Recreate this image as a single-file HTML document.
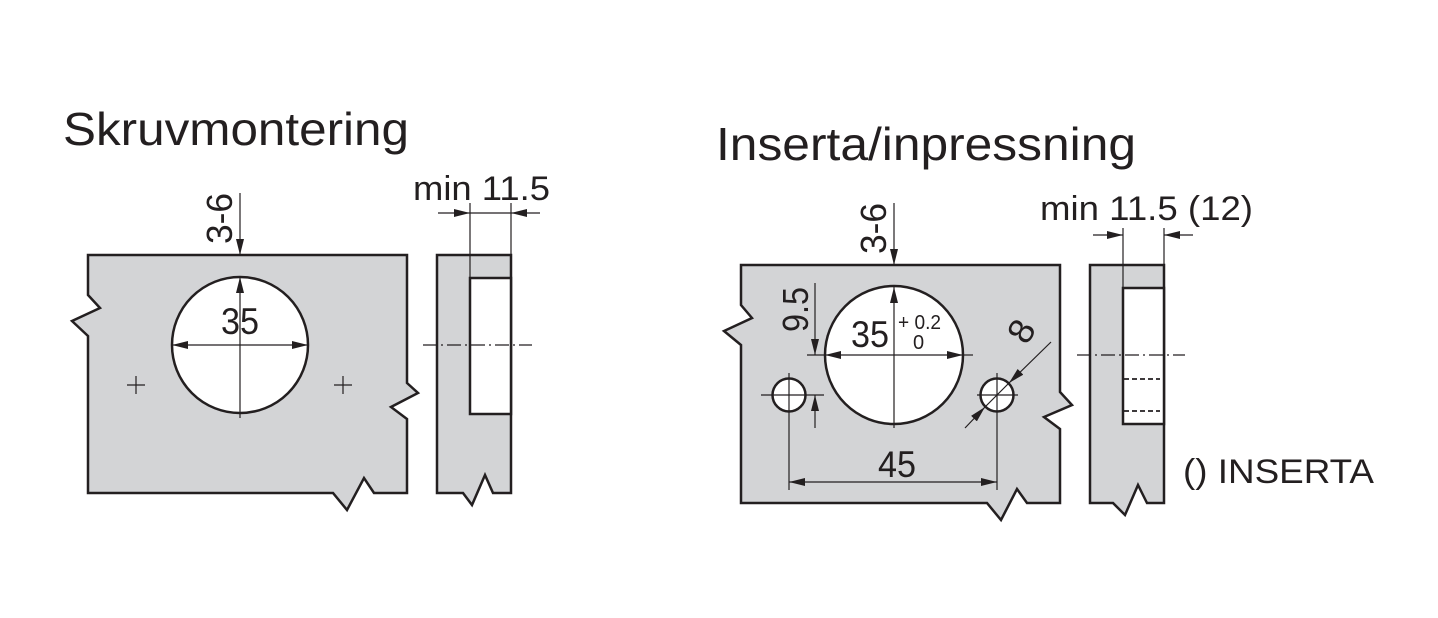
<!DOCTYPE html>
<html><head><meta charset="utf-8"><style>html,body{margin:0;padding:0;background:#fff}svg{display:block}</style></head>
<body>
<svg width="1438" height="618" viewBox="0 0 1438 618" xmlns="http://www.w3.org/2000/svg" font-family="Liberation Sans, sans-serif" fill="#231f20">
<defs>
<marker id="a" viewBox="0 0 16 8" refX="16" refY="4" markerWidth="16" markerHeight="8" markerUnits="userSpaceOnUse" orient="auto"><path d="M0,0 L16,4 L0,8 z" fill="#231f20"/></marker>
</defs>
<g stroke="#231f20" stroke-width="2.5" fill="#d3d4d6" stroke-linejoin="miter">
<path d="M88,255 L407,255 L407,383 L418,393 L391,407 L407,419 L407,493 L374,493 L364,478 L347,510 L333,493 L88,493 L88,336 L72,321 L100,308 L88,295 Z"/>
<path d="M437,255 L511,255 L511,493 L493,493 L485,475 L472,505 L463,493 L437,493 Z"/>
<path d="M741,265 L1060,265 L1060,392 L1072,405 L1044,417 L1060,429 L1060,503 L1027,503 L1017,489 L1001,520 L987,503 L741,503 L741,345 L724,331 L752,318 L741,305 Z"/>
<path d="M1090,265 L1164,265 L1164,503 L1147,503 L1138,485 L1125,515 L1113,503 L1090,503 Z"/>
</g>
<g stroke="#231f20" stroke-width="2.5" fill="#fff">
<circle cx="240" cy="345" r="68"/>
<rect x="470" y="278" width="41" height="136"/>
<circle cx="894" cy="355" r="69"/>
<circle cx="789" cy="395" r="16.5"/>
<circle cx="997" cy="395" r="16.5"/>
<rect x="1123" y="288" width="41" height="136"/>
</g>
<g stroke="#231f20" stroke-width="1.2" fill="none">
<line x1="240" y1="193" x2="240" y2="255" marker-end="url(#a)"/>
<line x1="240" y1="418" x2="240" y2="277" marker-end="url(#a)"/>
<line x1="240" y1="345" x2="172" y2="345" marker-end="url(#a)"/>
<line x1="240" y1="345" x2="308" y2="345" marker-end="url(#a)"/>
<path d="M127,385 h18 M136,376 v18 M334,385 h18 M343,376 v18"/>
<line x1="423" y1="345" x2="532" y2="345" stroke-dasharray="14,4,2,4"/>
<line x1="470" y1="203" x2="470" y2="278"/>
<line x1="511" y1="203" x2="511" y2="255"/>
<line x1="438" y1="213" x2="470" y2="213" marker-end="url(#a)"/>
<line x1="540" y1="213" x2="511" y2="213" marker-end="url(#a)"/>
<line x1="470" y1="213" x2="511" y2="213"/>
<line x1="894" y1="203" x2="894" y2="265" marker-end="url(#a)"/>
<line x1="894" y1="428" x2="894" y2="287" marker-end="url(#a)"/>
<line x1="894" y1="355" x2="825" y2="355" marker-end="url(#a)"/>
<line x1="894" y1="355" x2="963" y2="355" marker-end="url(#a)"/>
<line x1="807" y1="355" x2="825" y2="355"/>
<line x1="963" y1="355" x2="973" y2="355"/>
<line x1="815" y1="283" x2="815" y2="355" marker-end="url(#a)"/>
<line x1="815" y1="428" x2="815" y2="395" marker-end="url(#a)"/>
<line x1="761" y1="395" x2="824" y2="395"/>
<line x1="789" y1="373" x2="789" y2="490"/>
<line x1="977" y1="395" x2="1018" y2="395"/>
<line x1="997" y1="373" x2="997" y2="490"/>
<line x1="897" y1="482" x2="789" y2="482" marker-end="url(#a)"/>
<line x1="897" y1="482" x2="997" y2="482" marker-end="url(#a)"/>
<line x1="1051" y1="342" x2="1009" y2="383" marker-end="url(#a)"/>
<line x1="965" y1="428" x2="985" y2="407" marker-end="url(#a)"/>
<line x1="985" y1="407" x2="1009" y2="383"/>
<line x1="1077" y1="355" x2="1185" y2="355" stroke-dasharray="14,4,2,4"/>
<path d="M1124,379 h36 M1124,411 h36" stroke-dasharray="5,3" stroke-width="1.8"/>
<line x1="1123" y1="228" x2="1123" y2="288"/>
<line x1="1164" y1="228" x2="1164" y2="265"/>
<line x1="1093" y1="235" x2="1123" y2="235" marker-end="url(#a)"/>
<line x1="1193" y1="235" x2="1164" y2="235" marker-end="url(#a)"/>
</g>
<g font-size="34">
<text x="63" y="145" font-size="46" textLength="346" lengthAdjust="spacingAndGlyphs">Skruvmontering</text>
<text x="716" y="160" font-size="46" textLength="420" lengthAdjust="spacingAndGlyphs">Inserta/inpressning</text>
<text x="413" y="200" textLength="137" lengthAdjust="spacingAndGlyphs">min 11.5</text>
<text x="221" y="334" font-size="37" textLength="38" lengthAdjust="spacingAndGlyphs">35</text>
<text transform="translate(232,244) rotate(-90)" font-size="36" textLength="51" lengthAdjust="spacingAndGlyphs">3-6</text>
<text transform="translate(886,254) rotate(-90)" font-size="36" textLength="51" lengthAdjust="spacingAndGlyphs">3-6</text>
<text transform="translate(808,332) rotate(-90)" font-size="36" textLength="45" lengthAdjust="spacingAndGlyphs">9.5</text>
<text x="851" y="347" font-size="37" textLength="38" lengthAdjust="spacingAndGlyphs">35</text>
<text x="898" y="329" font-size="20" textLength="43" lengthAdjust="spacingAndGlyphs">+ 0.2</text>
<text x="913" y="349" font-size="20">0</text>
<text transform="translate(1027,346) rotate(-60)" font-size="36">8</text>
<text x="878" y="477" font-size="37" textLength="38" lengthAdjust="spacingAndGlyphs">45</text>
<text x="1040" y="220" textLength="213" lengthAdjust="spacingAndGlyphs">min 11.5 (12)</text>
<text x="1183" y="483" textLength="191" lengthAdjust="spacingAndGlyphs">() INSERTA</text>
</g>
</svg>
</body></html>
